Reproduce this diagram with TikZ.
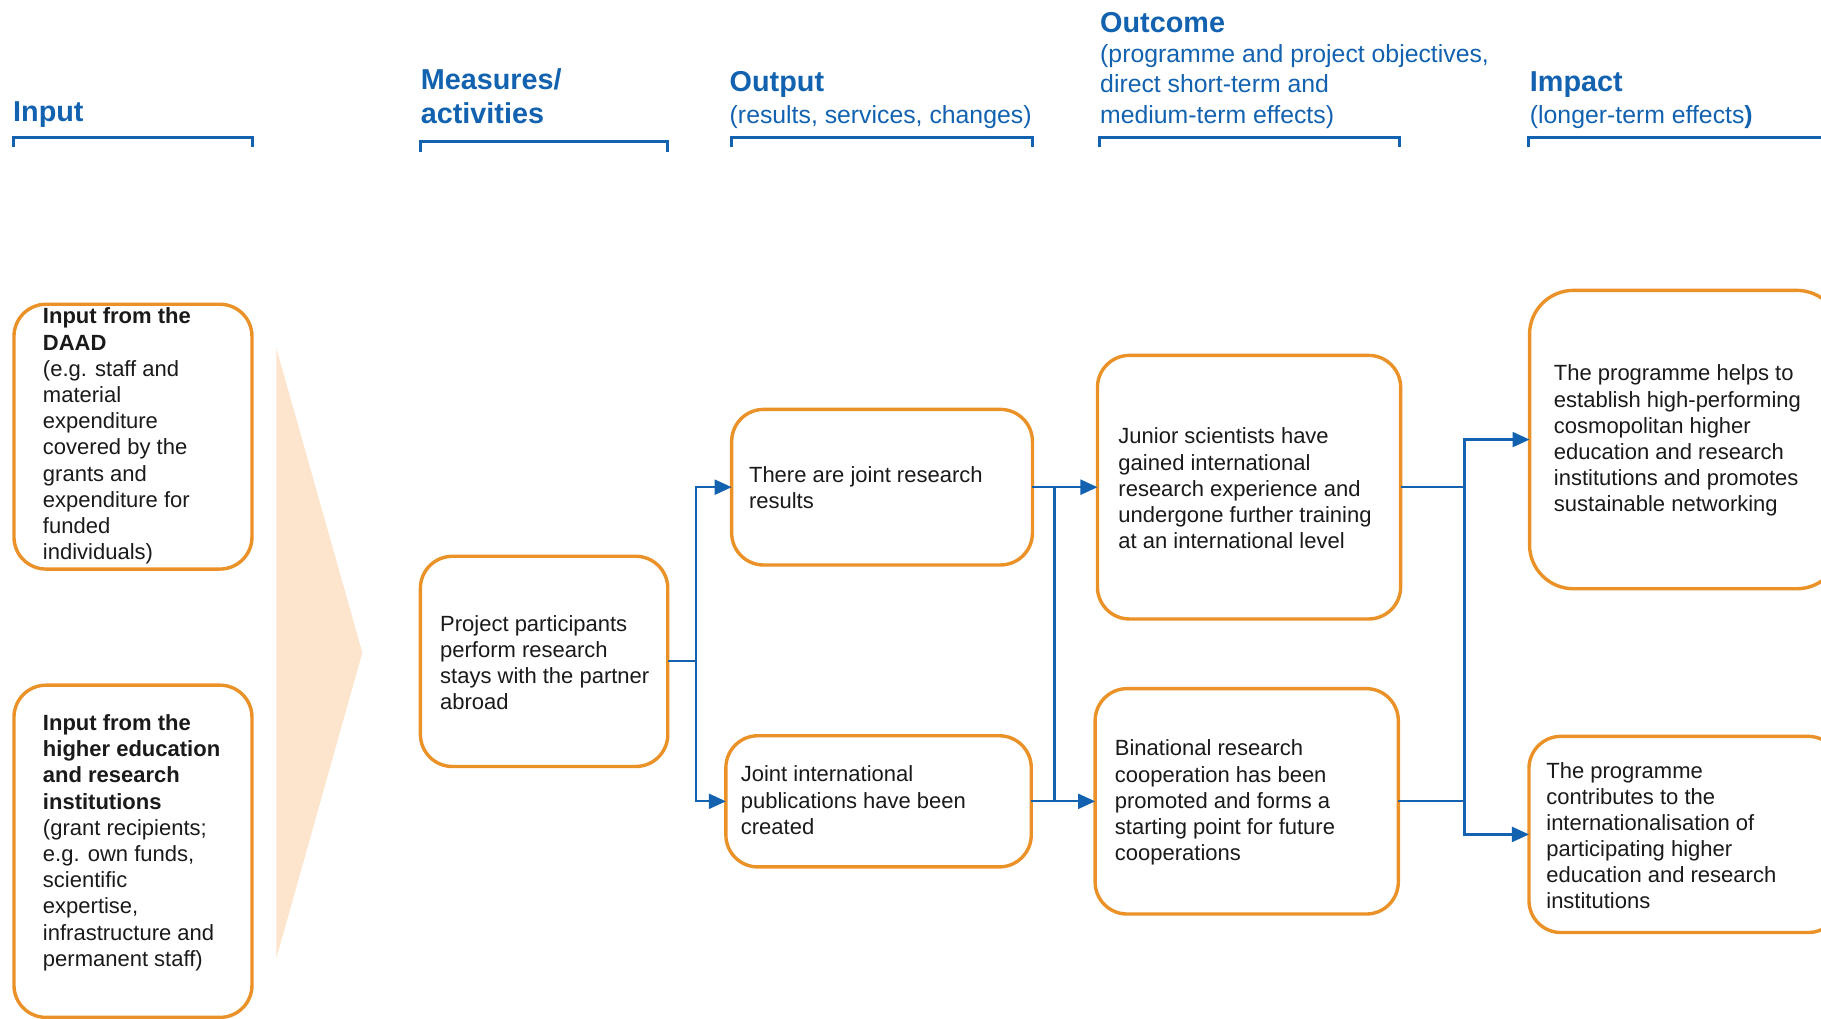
\documentclass[tikz,border=0pt]{standalone}
\usepackage{fontspec}
\setmainfont{Liberation Sans}
\usetikzlibrary{arrows.meta,positioning}
\definecolor{daadblue}{RGB}{18,98,176}
\definecolor{boxorange}{RGB}{234,145,40}
\definecolor{peach}{RGB}{252,228,205}
\definecolor{inktext}{RGB}{26,26,26}
\tikzset{
  box/.style={draw=boxorange, line width=1.7pt, rounded corners=16pt, fill=white, inner sep=0pt, outer sep=0pt},
  boxtext/.style={align=left, inner sep=0pt, outer sep=0pt, text=inktext, font=\fontsize{11}{13.1}\selectfont},
  head/.style={anchor=base west, inner sep=0pt, text=daadblue, font=\fontsize{14.4}{16}\selectfont\bfseries},
  headsub/.style={anchor=base west, inner sep=0pt, text=daadblue, font=\fontsize{12.4}{15}\selectfont},
  link/.style={draw=daadblue, line width=1.1pt},
}
\begin{document}
\begin{tikzpicture}[x=0.5807pt, y=-0.5807pt, >={Triangle[length=8.5pt,width=7.5pt]}]
\useasboundingbox (0,0) rectangle (1568,877);
\clip (0,0) rectangle (1568,877);
%% the big arrow behind the inputs
\fill[peach] (238,300) -- (312,562) -- (238,825) -- cycle;
%% column headings and their brackets
\foreach \xa/\xb/\yb in {12/217/118, 362/575/122, 630/889/118, 947/1205/118, 1316/1600/118}
  \draw[daadblue, line width=1.5pt] (\xa,\yb+9) -- (\xa,\yb) -- (\xb,\yb) -- (\xb,\yb+9);
\node[head] (hin) at (11,105) {Input};
\node[head] (hact1) at (362,77) {Measures/};
\node[head] (hact2) at (362,106) {activities};
\node[head] (hout) at (628,79) {Output};
\node[headsub] (hout1) at (628,106) {(results, services, changes)};
\node[head] (hoc) at (947,28) {Outcome};
\node[headsub] (hoc1) at (947,54) {(programme and project objectives,};
\node[headsub] (hoc2) at (947,80) {direct short-term and};
\node[headsub] (hoc3) at (947,106) {medium-term effects)};
\node[head] (him) at (1317,79) {Impact};
\node[headsub] (him1) at (1317,106) {(longer-term effects\textbf{)}};
%% the boxes
\node[box, minimum width=119.0pt, minimum height=132.4pt] (i1) at (114.5,376) {};
\node[box, minimum width=119.0pt, minimum height=166.1pt] (i2) at (114.5,733) {};
\node[box, minimum width=123.7pt, minimum height=105.1pt] (m) at (468.5,569.5) {};
\node[box, minimum width=150.4pt, minimum height=77.8pt] (o1) at (759.5,419.5) {};
\node[box, minimum width=152.7pt, minimum height=65.6pt] (o2) at (756.5,690) {};
\node[box, minimum width=151.6pt, minimum height=131.8pt] (c1) at (1075.5,419.5) {};
\node[box, minimum width=151.6pt, minimum height=112.7pt] (c2) at (1073.5,690) {};
\node[box, minimum width=155.6pt, minimum height=149.2pt, rounded corners=22pt] (p1) at (1451,378.5) {};
\node[box, minimum width=155.6pt, minimum height=98.1pt] (p2) at (1450.5,718.5) {};
%% the texts in the boxes
\node[boxtext, right=14.5pt of i1.west, yshift=0.3pt] (i1t) {\textbf{Input from the}\\\textbf{DAAD}\\(e.g. staff and\\material\\expenditure\\covered by the\\grants and\\expenditure for\\funded\\individuals)};
\node[boxtext, right=14.5pt of i2.west, yshift=4.3pt] (i2t) {\textbf{Input from the}\\\textbf{higher education}\\\textbf{and research}\\\textbf{institutions}\\(grant recipients;\\e.g. own funds,\\scientific\\expertise,\\infrastructure and\\permanent staff)};
\node[boxtext, right=9.9pt of m.west, yshift=-0.6pt] (mt) {Project participants\\perform research\\stays with the partner\\abroad};
\node[boxtext, right=8.7pt of o1.west, yshift=-0.3pt] (o1t) {There are joint research\\results};
\node[boxtext, right=7.5pt of o2.west, yshift=0.5pt] (o2t) {Joint international\\publications have been\\created};
\node[boxtext, right=10.5pt of c1.west, yshift=-0.6pt] (c1t) {Junior scientists have\\gained international\\research experience and\\undergone further training\\at an international level};
\node[boxtext, right=9.9pt of c2.west, yshift=-0.6pt] (c2t) {Binational research\\cooperation has been\\promoted and forms a\\starting point for future\\cooperations};
\node[boxtext, right=12.2pt of p1.west, yshift=-0.6pt] (p1t) {The programme helps to\\establish high-performing\\cosmopolitan higher\\education and research\\institutions and promotes\\sustainable networking};
\node[boxtext, right=8.7pt of p2.west, yshift=-0.6pt] (p2t) {The programme\\contributes to the\\internationalisation of\\participating higher\\education and research\\institutions};
%% junctions
\coordinate (jm) at (599,569.5);
\coordinate (jo1) at (908,419.5);
\coordinate (jo2) at (908,690);
\coordinate (jc1) at (1261,419.5);
\coordinate (jc2) at (1261,690);
%% the blue connectors
\draw[link] (m.east) -- (jm);
\draw[link,->] (jm) |- (o1.west);
\draw[link,->] (jm) |- (o2.west);
\draw[link,->] (o1.east) -- (c1.west);
\draw[link,->] (o2.east) -- (c2.west);
\draw[link] (jo1) -- (jo2);
\draw[link] (c1.east) -- (jc1);
\draw[link] (c2.east) -- (jc2);
\draw[link] (jc1) -- (jc2);
\draw[link,->] (jc1) |- (p1.west);
\draw[link,->] (jc2) |- (p2.west);
\end{tikzpicture}
\end{document}
